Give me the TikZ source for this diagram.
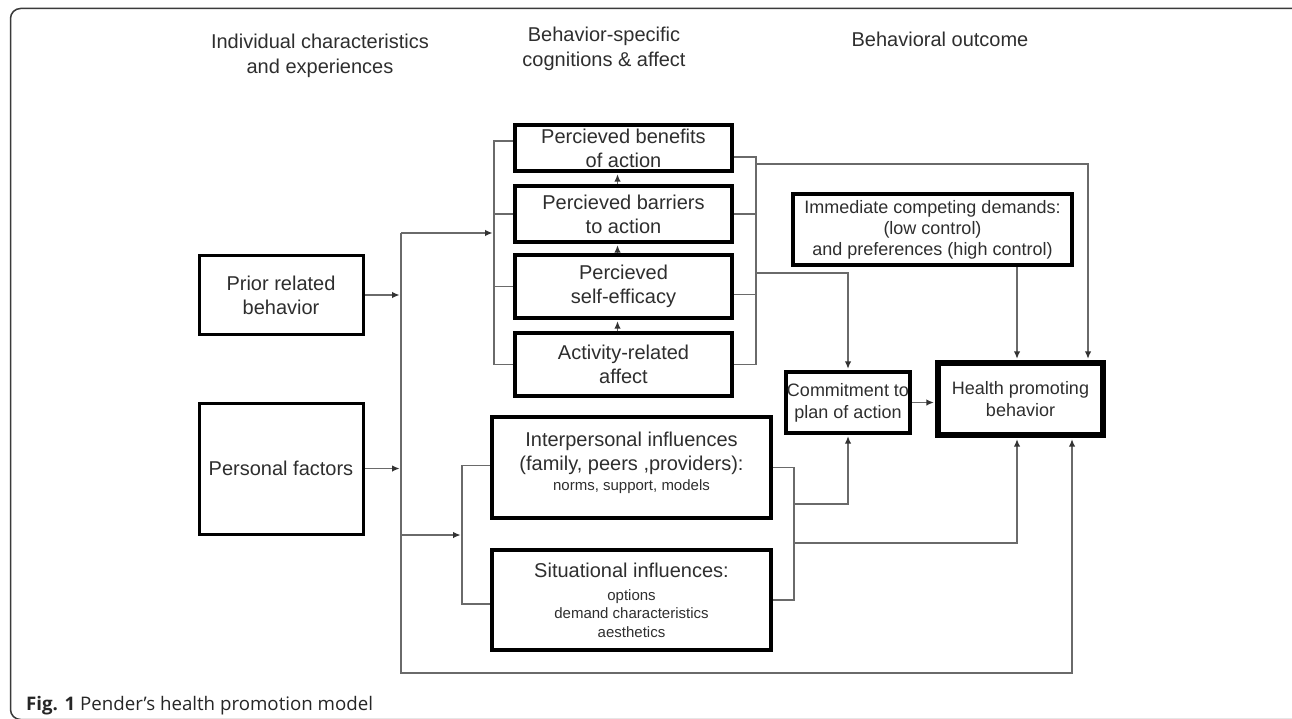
\documentclass[tikz,border=0pt]{standalone}
\usepackage{fontspec}
\setmainfont{Liberation Sans}
\newfontfamily\capfont{Open Sans}
\usetikzlibrary{arrows.meta,calc,backgrounds}
\definecolor{txt}{HTML}{2E2E2E}
\definecolor{ln}{HTML}{6A6A6A}
\definecolor{frm}{HTML}{3A3A3A}
\newcommand{\sm}[1]{{\fontsize{15}{18}\selectfont #1}}
\begin{document}
\begin{tikzpicture}[x=1pt,y=-1pt,
 box/.style={draw=black, line width=3.5pt, text=txt, align=center, inner sep=0pt, font=\fontsize{20}{24}\selectfont},
 conn/.style={draw=ln, line width=1.4pt},
 arr/.style={conn, -{Latex[length=7.5pt,width=6.5pt,color=black!80]}, shorten >=1.4pt},
 hdr/.style={text=txt, align=center, font=\fontsize{20}{25}\selectfont, inner sep=0pt}]
\useasboundingbox (0,0) rectangle (1292,719);
\begin{scope}
\clip (0,0) rectangle (1292,719);
\draw[frm, line width=1.5pt, rounded corners=10pt] (10.5,8.5) rectangle (1305,719.5);
\end{scope}

% headers
\node[hdr] (h1) at (320,55.5) {Individual characteristics\\and experiences};
\node[hdr] (h2) at (604,49) {Behavior-specific\\cognitions \& affect};
\node[hdr] (h3) at (940,39) {Behavioral outcome};

% boxes
\node[box, line width=3pt, minimum width=164pt, minimum height=78pt] (prior) at (281,295) {Prior related\\behavior};
\node[box, line width=3pt, minimum width=164pt, minimum height=131pt] (pers) at (281,468.5) {Personal factors};
\node[box, minimum width=217pt, minimum height=46pt] (ben) at (623.5,148) {Percieved benefits\\of action};
\node[box, minimum width=217pt, minimum height=56pt] (bar) at (623.5,214) {Percieved barriers\\to action};
\node[box, minimum width=217pt, minimum height=63pt] (self) at (623.5,286.5) {Percieved\\self-efficacy};
\node[box, minimum width=217pt, minimum height=63pt] (aff) at (623.5,364.5) {Activity-related\\affect};
\node[box, minimum width=279pt, minimum height=101pt] (inter) at (631.5,467.5) {Interpersonal influences\\(family, peers ,providers):\\[-4pt]\sm{norms, support, models}\\[-12pt]\mbox{}};
\node[box, minimum width=279pt, minimum height=100pt] (sit) at (631.5,600) {Situational influences:\\[-1pt]\sm{options}\\[-6pt]\sm{demand characteristics}\\[-5pt]\sm{aesthetics}};
\node[box, font=\fontsize{18}{21}\selectfont, minimum width=279pt, minimum height=71pt] (imm) at (932.5,229.5) {Immediate competing demands:\\(low control)\\and preferences (high control)};
\node[box, font=\fontsize{18}{22}\selectfont, minimum width=124pt, minimum height=61pt] (comm) at (848,402.5) {Commitment to\\plan of action};
\node[box, line width=5.5pt, font=\fontsize{18}{22}\selectfont, minimum width=165pt, minimum height=72pt] (health) at (1020.5,399) {Health promoting\\behavior};

% caption
\node[anchor=base west, inner sep=0pt, text=black!85, font=\capfont\fontsize{18.7}{22}\selectfont] (cap) at (26,710) {\textbf{Fig. 1} Pender’s health promotion model};

% helper coordinates
\coordinate (LB) at (494,0);
\coordinate (T) at (401,233);
\coordinate (BL) at (401,673);
\coordinate (SB) at (462,535);
\coordinate (RB) at (756,0);
\coordinate (RB2) at (794,0);
\coordinate (H1) at (1088,164);
\coordinate (H2) at (1017,0);
\coordinate (H3) at (1072,0);
\coordinate (C1) at (848,273);
\coordinate (C2) at (794,504);
\coordinate (C3) at (794,543);
\coordinate (selfR) at ([yshift=-8pt]self.east);

\begin{scope}[on background layer]
% left bracket of cognitions
\draw[conn] ([yshift=7pt]ben.west) -| (LB |- aff.west) -- (aff.west);
\draw[conn] (bar.west) -- (bar.west -| LB);
\draw[conn] (self.west) -- (self.west -| LB);
% trunk
\draw[arr] (T) -- (T -| LB);
\draw[arr] (T) -- (BL) -| (health.south -| H3);
\draw[arr] (prior.east) -- (prior.east -| T);
\draw[arr] (pers.east) -- (pers.east -| T);
\draw[arr] (SB -| T) -- (SB);
\draw[conn] ([yshift=2pt]inter.west) -| (SB) |- ([yshift=-4pt]sit.west);
% stacked arrows
\draw[arr] ([xshift=-6pt]bar.north) -- ([xshift=-6pt]ben.south);
\draw[arr] ([xshift=-6pt]self.north) -- ([xshift=-6pt]bar.south);
\draw[arr] ([xshift=-6pt]aff.north) -- ([xshift=-6pt]self.south);
% right bracket of cognitions
\draw[conn] ([yshift=-9pt]ben.east) -| (RB |- aff.east) -- (aff.east);
\draw[conn] (bar.east) -- (bar.east -| RB);
\draw[conn] (selfR) -- (selfR -| RB);
\draw[arr] (RB |- H1) -- (H1) -- (H1 |- health.north);
\draw[arr] (RB |- C1) -| (comm.north);
\draw[arr] (imm.south -| H2) -- (health.north -| H2);
% right bracket of influences
\draw[conn] (inter.east) -| (RB2 |- sit.east) -- (sit.east);
\draw[arr] (C2) -| (comm.south);
\draw[arr] (C3) -| (health.south -| H2);
\draw[arr] (comm.east) -- (comm.east -| health.west);
\end{scope}
\end{tikzpicture}
\end{document}
